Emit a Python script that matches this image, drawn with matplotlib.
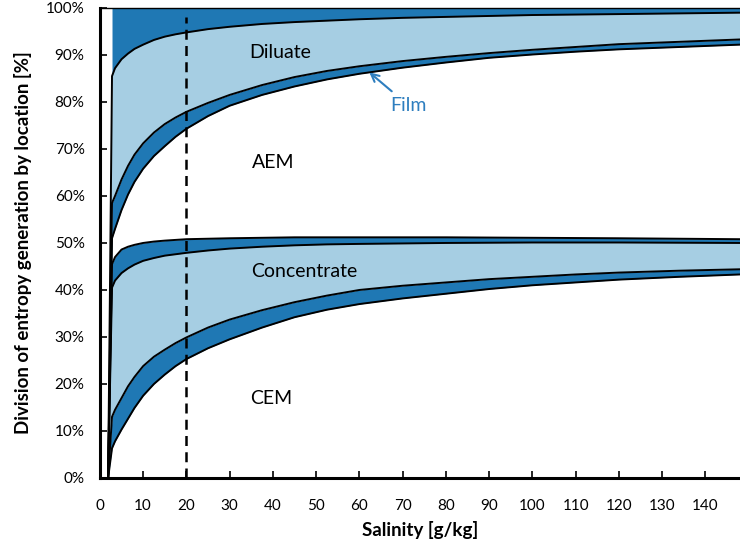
import matplotlib.pyplot as plt
import numpy as np
from matplotlib.ticker import MultipleLocator, PercentFormatter

plt.rcParams['font.family'] = ['Lato', 'DejaVu Sans']

# salinity [g/kg] and the cumulative boundaries between locations [%]
salinity = np.array([1.9, 2.8, 3.5, 5, 6.5, 8, 10, 12.5, 15, 17.5, 20, 25, 30, 37.5,
                     45, 52.5, 60, 70, 80, 90, 100, 110, 120, 134, 148])
cem_top = np.array([0, 6.3, 7.8, 10.3, 12.6, 14.9, 17.5, 20.0, 22.0, 23.8, 25.3, 27.6,
                    29.5, 32.0, 34.2, 35.8, 37.0, 38.2, 39.2, 40.2, 41.0, 41.6, 42.2,
                    42.8, 43.3])
conc_bottom = np.array([0, 13.0, 14.5, 17.0, 19.5, 21.5, 23.8, 25.8, 27.3, 28.7, 29.9,
                        32.0, 33.7, 35.7, 37.4, 38.8, 40.0, 40.9, 41.6, 42.3, 42.8,
                        43.3, 43.7, 44.1, 44.4])
conc_top = np.array([0, 40.5, 42.0, 43.6, 44.6, 45.4, 46.2, 46.8, 47.3, 47.6, 47.9,
                     48.4, 48.8, 49.2, 49.5, 49.7, 49.8, 49.9, 50.0, 50.05, 50.1, 50.1,
                     50.1, 50.05, 50.0])
aem_bottom = np.array([0, 45.5, 47.0, 48.6, 49.2, 49.6, 50.0, 50.3, 50.5, 50.65, 50.8,
                       50.9, 51.0, 51.1, 51.2, 51.2, 51.2, 51.2, 51.2, 51.15, 51.1,
                       51.05, 51.0, 50.9, 50.8])
aem_top = np.array([0, 51.0, 53.0, 57.0, 60.3, 63.0, 65.8, 68.5, 70.6, 72.6, 74.3,
                    77.0, 79.2, 81.5, 83.3, 84.8, 86.0, 87.3, 88.4, 89.4, 90.1, 90.7,
                    91.2, 91.7, 92.2])
dil_bottom = np.array([0, 58.5, 60.0, 63.5, 66.4, 68.8, 71.2, 73.5, 75.3, 76.7, 77.9,
                       79.8, 81.5, 83.6, 85.3, 86.6, 87.6, 88.7, 89.6, 90.4, 91.1,
                       91.7, 92.3, 92.8, 93.3])
dil_top = np.array([0, 85.5, 87.2, 89.1, 90.3, 91.3, 92.2, 93.2, 93.9, 94.4, 94.8,
                    95.5, 96.0, 96.6, 97.0, 97.3, 97.6, 97.9, 98.1, 98.3, 98.5, 98.6,
                    98.7, 98.85, 99.0])

ref_salinity = 20

dark = '#1f78b4'
light = '#a6cee3'
film_color = '#2e7ebf'

fig = plt.figure(figsize=(7.4, 5.5), dpi=100)
ax = fig.add_axes([0.135, 0.131, 0.865, 0.8545])

# film / bulk / film layers
ax.fill_between(salinity, cem_top, conc_bottom, color=dark, lw=0)
ax.fill_between(salinity, conc_bottom, conc_top, color=light, lw=0)
ax.fill_between(salinity, conc_top, aem_bottom, color=dark, lw=0)
ax.fill_between(salinity, aem_top, dil_bottom, color=dark, lw=0)
ax.fill_between(salinity, dil_bottom, dil_top, color=light, lw=0)
ax.fill_between(salinity, dil_top, 100, where=salinity >= 2.8, color=dark, lw=0)

for b in [cem_top, conc_bottom, conc_top, aem_bottom, aem_top, dil_bottom, dil_top]:
    ax.plot(salinity, b, color='black', lw=1.4, solid_joinstyle='round')

ax.plot([ref_salinity, ref_salinity], [0, 98], color='black', lw=1.8, ls=(0, (4, 2.5)))

ax.text(41.8, 90.6, 'Diluate', ha='center', va='center', fontsize=14)
ax.text(40, 67.2, 'AEM', ha='center', va='center', fontsize=14)
ax.text(47.3, 44, 'Concentrate', ha='center', va='center', fontsize=14)
ax.text(39.7, 17, 'CEM', ha='center', va='center', fontsize=14)
ax.annotate('Film', xy=(62.3, 86.3), xytext=(71.3, 79.3), color=film_color,
            ha='center', va='center', fontsize=14,
            arrowprops=dict(arrowstyle='->', color=film_color, lw=1.5,
                            shrinkA=3, shrinkB=0))

ax.set_xlim(0, 148)
ax.set_ylim(0, 100)
ax.xaxis.set_major_locator(MultipleLocator(10))
ax.yaxis.set_major_locator(MultipleLocator(10))
ax.yaxis.set_major_formatter(PercentFormatter(decimals=0))
ax.tick_params(direction='in', length=5, width=1.2, labelsize=11)
ax.tick_params(axis='x', pad=15)
ax.tick_params(axis='y', pad=11)

for s in ['left', 'bottom']:
    ax.spines[s].set_linewidth(2.2)
ax.spines['top'].set_linewidth(1.0)
ax.spines['right'].set_visible(False)

ax.set_xlabel('Salinity [g/kg]', fontsize=13.5, fontweight='bold', labelpad=6)
ax.set_ylabel('Division of entropy generation by location [%]', fontsize=13.5,
              fontweight='bold', labelpad=10)

fig.savefig('out.png', dpi=100)
